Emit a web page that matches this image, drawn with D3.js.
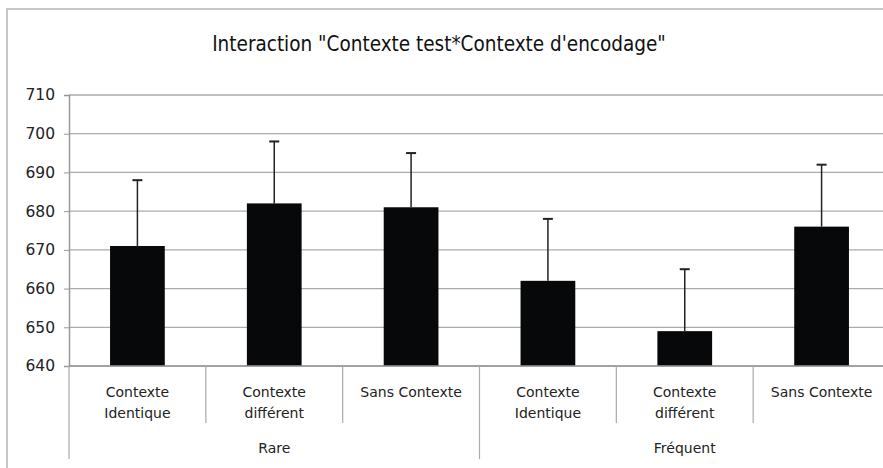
<!DOCTYPE html>
<html>
<head>
<meta charset="utf-8">
<script src="https://cdn.jsdelivr.net/npm/d3@7"></script>
<style>
  body { margin: 0; background: #fff; }
  svg { display: block; }
</style>
</head>
<body>
<div id="chart"></div>
<script>
// values
var groups = ["Rare", "Fréquent"];
var conditions = ["Contexte Identique", "Contexte différent", "Sans Contexte"];
var conditionLines = [["Contexte", "Identique"], ["Contexte", "différent"], ["Sans Contexte"]];
var means = [671, 682, 681, 662, 649, 676];
var errors = [17, 16, 14, 16, 16, 16];
var yTicks = [640, 650, 660, 670, 680, 690, 700, 710];

// one row per bar
var data = [];
groups.forEach(function (g, gi) {
    conditions.forEach(function (c, ci) {
        var i = gi * conditions.length + ci;
        data.push({ key: g + "|" + c, group: g, cond: ci, mean: means[i], err: errors[i] });
    });
});

var W = 883, H = 468;
var margin = { top: 95, right: -7, bottom: 102, left: 69 },
    width = W - margin.left - margin.right,
    height = H - margin.top - margin.bottom;

var svg = d3.select("#chart")
    .append("svg")
    .attr("width", W)
    .attr("height", H);

// outer frame (cut by the image edge)
svg.append("rect")
    .attr("x", 7).attr("y", 9)
    .attr("width", W + 20).attr("height", H + 20)
    .attr("fill", "none")
    .attr("stroke", "#b4b4b4")
    .attr("stroke-width", 1.5);

// title
svg.append("text")
    .attr("x", 439)
    .attr("y", 51)
    .attr("text-anchor", "middle")
    .style("font-family", "'DejaVu Sans Condensed', 'Liberation Sans Narrow', sans-serif")
    .style("font-size", "20.5px")
    .style("fill", "#111")
    .text("Interaction \"Contexte test*Contexte d'encodage\"");

var g = svg.append("g")
    .attr("transform", "translate(" + margin.left + "," + margin.top + ")");

var x = d3.scaleBand()
    .domain(data.map(function (d) { return d.key; }))
    .range([0, width])
    .padding(0);

var y = d3.scaleLinear()
    .domain([640, 710])
    .range([height, 0]);

// gridlines
g.append("g")
    .selectAll("line")
    .data(yTicks)
    .enter()
    .append("line")
    .attr("x1", 0).attr("x2", width)
    .attr("y1", function (d) { return y(d); })
    .attr("y2", function (d) { return y(d); })
    .attr("stroke", "#ababab")
    .attr("stroke-width", 1.3);

// y axis
var yAxis = g.append("g")
    .call(d3.axisLeft(y).tickValues(yTicks).tickSize(5).tickPadding(9));
yAxis.select(".domain").attr("stroke", "#999").attr("stroke-width", 1.5);
yAxis.selectAll(".tick line").attr("stroke", "#999");
yAxis.selectAll("text")
    .style("font-family", "'DejaVu Sans', sans-serif")
    .style("font-size", "15.5px")
    .style("fill", "#222");

// bars
var bw = x.bandwidth();
g.selectAll(".bar")
    .data(data)
    .enter()
    .append("rect")
    .attr("class", "bar")
    .attr("x", function (d) { return x(d.key) + bw * 0.3; })
    .attr("width", bw * 0.4)
    .attr("y", function (d) { return y(d.mean); })
    .attr("height", function (d) { return height - y(d.mean); })
    .attr("fill", "#070809");

// error bars (upper only)
var eb = g.selectAll(".err")
    .data(data)
    .enter()
    .append("g")
    .attr("class", "err")
    .attr("stroke", "#222")
    .attr("stroke-width", 1.5);
eb.append("line")
    .attr("x1", function (d) { return x(d.key) + bw / 2; })
    .attr("x2", function (d) { return x(d.key) + bw / 2; })
    .attr("y1", function (d) { return y(d.mean); })
    .attr("y2", function (d) { return y(d.mean + d.err); });
eb.append("line")
    .attr("x1", function (d) { return x(d.key) + bw / 2 - 5; })
    .attr("x2", function (d) { return x(d.key) + bw / 2 + 5; })
    .attr("y1", function (d) { return y(d.mean + d.err); })
    .attr("y2", function (d) { return y(d.mean + d.err); })
    .attr("stroke-width", 2);

// x axis baseline
g.append("line")
    .attr("x1", 0).attr("x2", width)
    .attr("y1", height).attr("y2", height)
    .attr("stroke", "#999")
    .attr("stroke-width", 1.5);

// category dividers
g.selectAll(".divider")
    .data(data)
    .enter()
    .append("line")
    .attr("class", "divider")
    .attr("x1", function (d) { return x(d.key); })
    .attr("x2", function (d) { return x(d.key); })
    .attr("y1", height)
    .attr("y2", function (d) { return d.cond === 0 ? height + 93 : height + 57; })
    .attr("stroke", "#aaa")
    .attr("stroke-width", 1.2);

// condition labels
var labelFont = "'DejaVu Sans', sans-serif";
g.selectAll(".cat")
    .data(data)
    .enter()
    .append("text")
    .attr("class", "cat")
    .attr("text-anchor", "middle")
    .attr("transform", function (d) { return "translate(" + (x(d.key) + bw / 2) + "," + (height + 31) + ")"; })
    .style("font-family", labelFont)
    .style("font-size", "14px")
    .style("fill", "#222")
    .each(function (d) {
        var t = d3.select(this);
        conditionLines[d.cond].forEach(function (line, li) {
            t.append("tspan").attr("x", 0).attr("y", li * 21).text(line);
        });
    });

// group labels
g.selectAll(".grp")
    .data(groups)
    .enter()
    .append("text")
    .attr("class", "grp")
    .attr("text-anchor", "middle")
    .attr("x", function (d) { return x(d + "|" + conditions[1]) + bw / 2; })
    .attr("y", height + 87)
    .style("font-family", labelFont)
    .style("font-size", "14px")
    .style("fill", "#222")
    .text(function (d) { return d; });
</script>
</body>
</html>
